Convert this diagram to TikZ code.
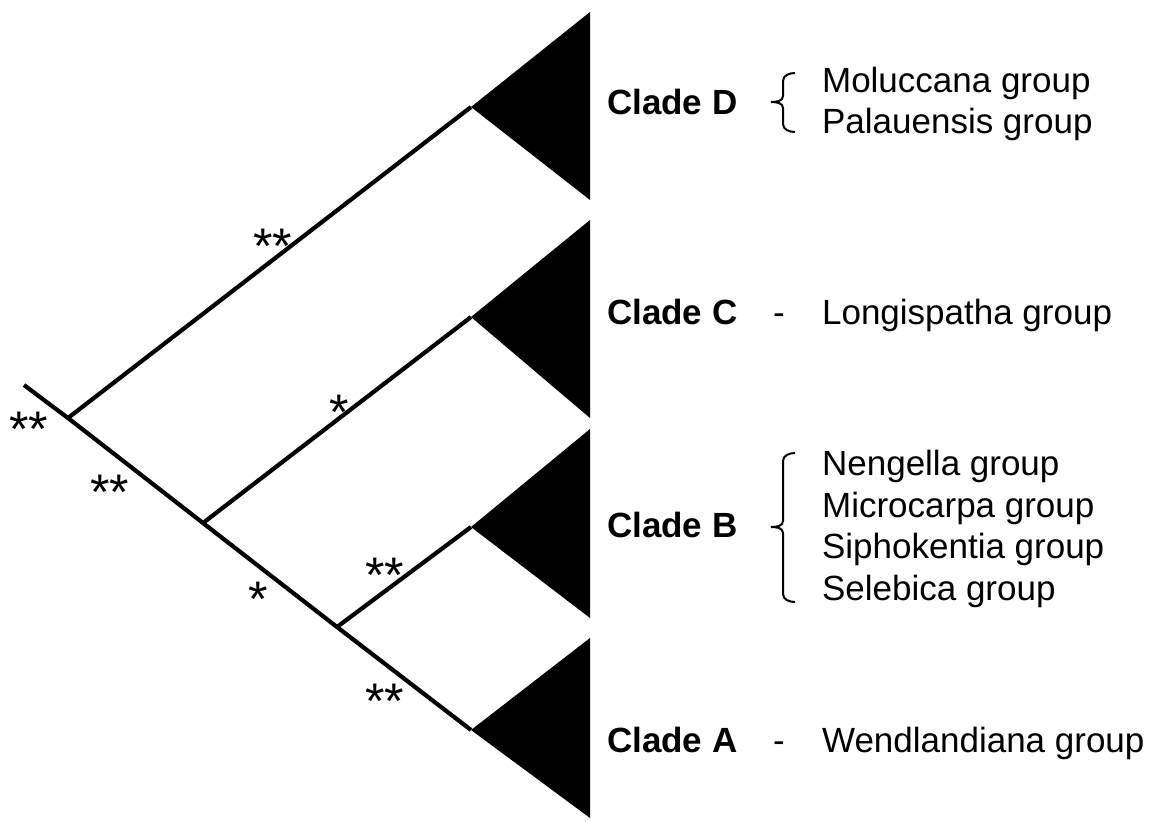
\documentclass[tikz,border=0pt]{standalone}
\usepackage{fontspec}
\setmainfont{Liberation Sans}
\begin{document}
\begin{tikzpicture}[x=1pt,y=-1pt,line width=4.2pt,
  clade/.style={anchor=base west,inner sep=0pt,font=\fontsize{35}{40}\selectfont\bfseries},
  grp/.style={anchor=base west,inner sep=0pt,font=\fontsize{35}{40}\selectfont},
  sig/.style={anchor=base,inner sep=0pt,font=\fontsize{50}{50}\selectfont},
  brc/.style={line width=2pt}]
\useasboundingbox (0,0) rectangle (1155,821);

\coordinate (root) at (24,385);
\coordinate (jD) at (68,418);
\coordinate (jC) at (203,523);
\coordinate (jB) at (337,627);
\coordinate (tD) at (471,107);
\coordinate (tC) at (471,317);
\coordinate (tB) at (471,527);
\coordinate (tA) at (471,730);

\fill (590,12) -- (tD) -- (590,200) -- cycle;
\fill (590,220) -- (tC) -- (590,418) -- cycle;
\fill (590,429) -- (tB) -- (590,618) -- cycle;
\fill (590,638) -- (tA) -- (590,818) -- cycle;

\draw (root) -- (jD) -- (jC) -- (jB) -- (tA);
\draw (jD) -- (tD);
\draw (jC) -- (tC);
\draw (jB) -- (tB);

\node[sig] (s1) at (29,446) {**};
\node[sig] (s2) at (110,509) {**};
\node[sig] (s3) at (258,616) {*};
\node[sig] (s4) at (339,429) {*};
\node[sig] (s5) at (273,263) {**};
\node[sig] (s6) at (385,592) {**};
\node[sig] (s7) at (385,718) {**};

\node[clade] (cD) at (605,115) {Clade D};
\node[clade] (cC) at (605,324) {Clade C};
\node[clade] (cB) at (605,537) {Clade B};
\node[clade] (cA) at (605,752) {Clade A};

\draw[brc] (795,73) to[out=180,in=90] (783,81) -- (783,96)
  to[out=-90,in=0] (771,102) to[out=0,in=90] (783,108) -- (783,124)
  to[out=-90,in=180] (795,132);
\node[grp] (moluccana) at (820,93) {Moluccana group};
\node[grp] (palauensis) at (820,134) {Palauensis group};

\node[grp] (dC) at (771,324) {-};
\node[grp] (longispatha) at (820,324) {Longispatha group};

\draw[brc] (795,453) to[out=180,in=90] (783,461) -- (783,521)
  to[out=-90,in=0] (771,527) to[out=0,in=90] (783,533) -- (783,594)
  to[out=-90,in=180] (795,602);
\node[grp] (nengella) at (820,475) {Nengella group};
\node[grp] (microcarpa) at (820,517) {Microcarpa group};
\node[grp] (siphokentia) at (820,558) {Siphokentia group};
\node[grp] (selebica) at (820,600) {Selebica group};

\node[grp] (dA) at (771,752) {-};
\node[grp] (wendlandiana) at (820,752) {Wendlandiana group};
\end{tikzpicture}
\end{document}
